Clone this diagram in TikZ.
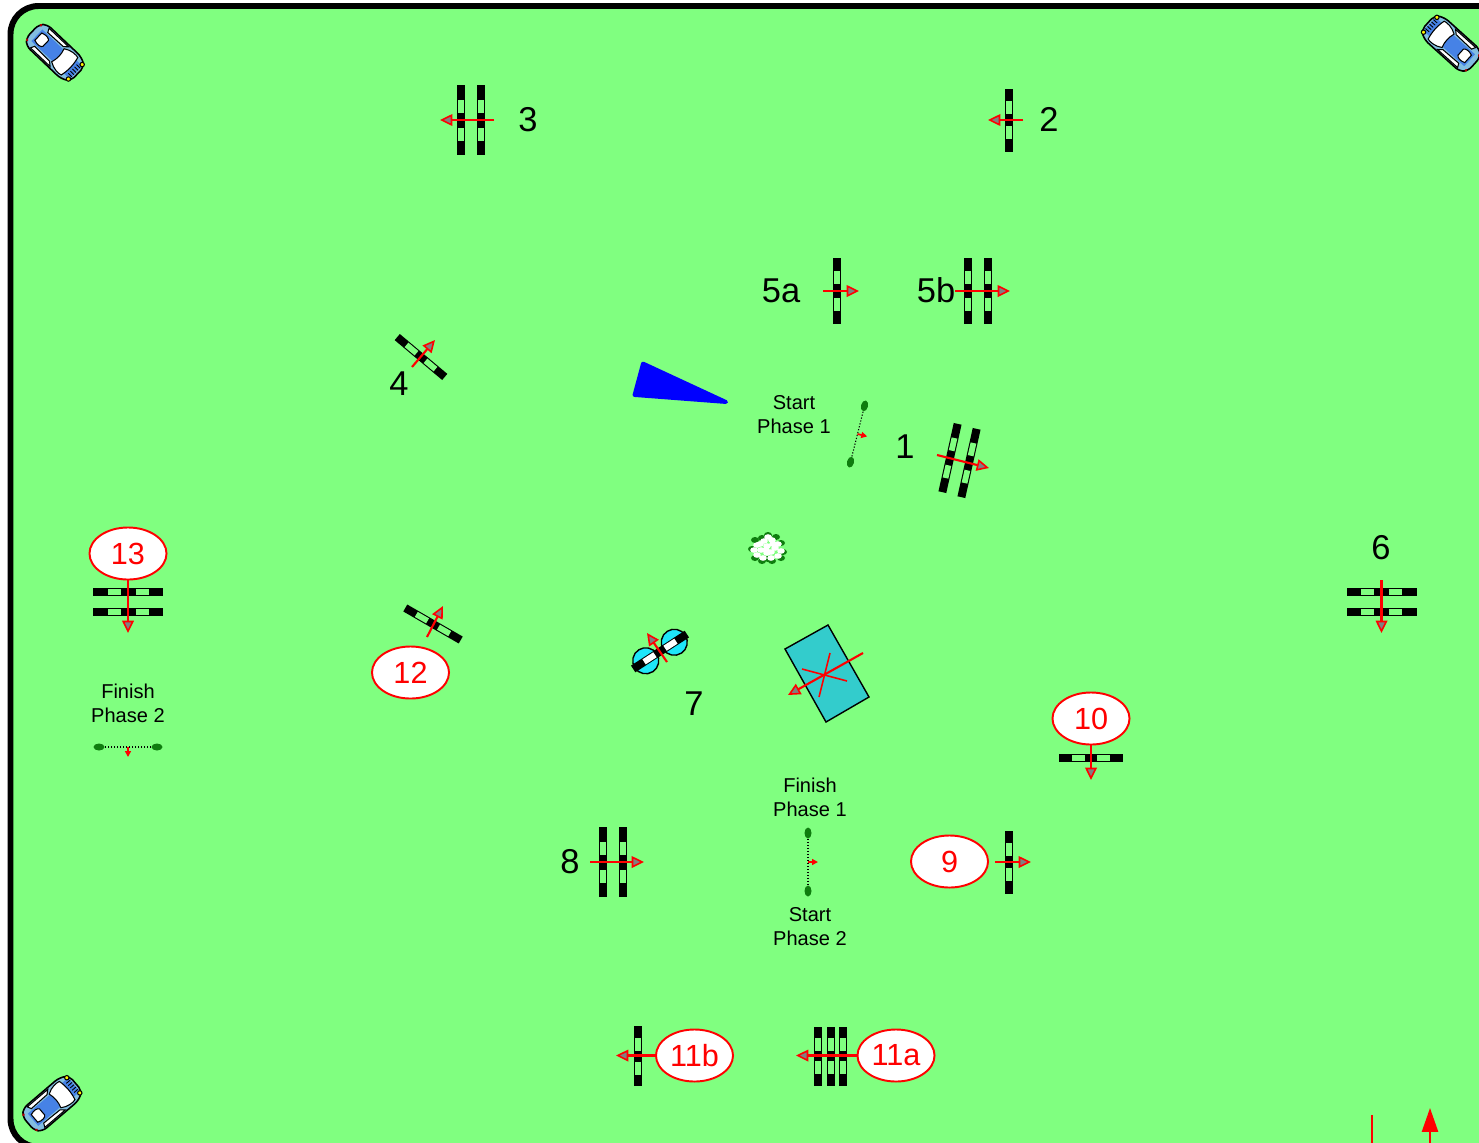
\documentclass[tikz,border=0pt]{standalone}
\usepackage{fontspec}
\setmainfont{Liberation Sans}
\usepackage{xcolor}
\usetikzlibrary{arrows.meta, shapes.geometric}
\definecolor{turf}{RGB}{128,255,128}
\definecolor{table}{RGB}{51,204,204}
\definecolor{tyre}{RGB}{30,230,250}
\definecolor{flag}{RGB}{15,125,15}
\definecolor{carbody}{RGB}{130,190,225}
\definecolor{carroof}{RGB}{70,130,230}

\begin{document}
\begin{tikzpicture}[
      x=0.01cm, y=-0.01cm,
      num/.style={font=\fontsize{9.8}{11}\selectfont, inner sep=0pt, text height=7pt, text depth=0pt},
      note/.style={font=\fontsize{5.7}{6.8}\selectfont, align=center, inner sep=0pt},
      circ/.style={draw=red, fill=white, line width=0.55pt, ellipse, minimum width=0.77cm, minimum height=0.52cm, inner sep=0pt, text=red, font=\fontsize{8.7}{10}\selectfont},
      dir/.style={draw=red, line width=0.6pt, -{Triangle[open, fill=gray, line width=0.45pt, length=3.5pt, width=3.3pt]}},
      cut/.style={draw=red, line width=0.45pt},
      pics/bar/.style={code={
        \fill[black] (-4,-#1/2) rectangle (4,#1/2);
        \fill[turf] (-2.9,-0.2*#1-6.5) rectangle (2.9,-0.2*#1+6.5);
        \fill[turf] (-2.9,0.2*#1-6.5) rectangle (2.9,0.2*#1+6.5);
      }},
      pics/bar/.default=70,
      pics/tyres/.style={code={
        \filldraw[fill=tyre, draw=black, line width=0.4pt] (0,17) circle (13);
        \filldraw[fill=tyre, draw=black, line width=0.4pt] (0,-17) circle (13);
        \fill[black] (-4,-32) rectangle (4,32);
        \fill[white] (-3,-19) rectangle (3,-6);
        \fill[white] (-3,6) rectangle (3,19);
      }},
      pics/gate/.style={code={
        \draw[line width=0.3pt, dash pattern=on 0.35pt off 0.5pt] (0,-26) -- (0,26);
        \fill[flag] (0,-29) ellipse (3.5 and 5.5);
        \fill[flag] (0,29) ellipse (3.5 and 5.5);
        \draw[draw=red, line width=0.5pt, -{Triangle[length=1.7pt, width=1.7pt]}] (0,0) -- (10,0);
      }},
      pics/car/.style={code={
        \filldraw[fill=carbody, draw=black, line width=0.45pt, rounded corners=0.05cm]
          (-31,-9) -- (-25,-15) -- (22,-15) -- (31,-10) -- (31,10) -- (22,15) -- (-25,15) -- (-31,9) -- cycle;
        \fill[carroof] (-25,-8) rectangle (8,8);
        \fill[carroof] (18,-9) rectangle (29,9);
        \filldraw[fill=white, draw=black, line width=0.3pt] (4,-9) .. controls (10,-13) and (17,-13) .. (20,-12) .. controls (22,-4) and (22,4) .. (20,12) .. controls (17,13) and (10,13) .. (4,9) .. controls (6,3) and (6,-3) .. (4,-9) -- cycle;
        \filldraw[fill=white, draw=black, line width=0.3pt] (-23,-5) .. controls (-18,-7) and (-14,-6) .. (-13,-4) -- (-13,4) .. controls (-14,6) and (-18,7) .. (-23,5) -- cycle;
        \filldraw[fill=white, draw=black, line width=0.3pt] (-21,-13.5) -- (6,-13.5) -- (2,-10) -- (-19,-9.5) -- cycle;
        \filldraw[fill=white, draw=black, line width=0.3pt] (-21,13.5) -- (6,13.5) -- (2,10) -- (-19,9.5) -- cycle;
        \foreach \gy in {-6,-3,0,3,6} {
          \draw[black, line width=0.25pt] (24,\gy) -- (29,\gy);
        }
        \filldraw[fill=yellow, draw=black, line width=0.3pt] (28,-10) circle (2.2);
        \filldraw[fill=yellow, draw=black, line width=0.3pt] (28,10) circle (2.2);
        \fill[red!70!black] (-29,-10) circle (1.5);
        \fill[red!70!black] (-29,10) circle (1.5);
      }}
    ]
    \useasboundingbox (0,0) rectangle (1479,1142);
    \clip (0,0) rectangle (1479,1142);
    \filldraw[fill=turf, draw=black, line width=1.7pt, rounded corners=0.28cm] (10.5,6) rectangle (1700,1147);

    \pic[rotate=-43.5] at (55,52.5) {car};
    \pic[rotate=138] at (1451,43.5) {car};
    \pic[rotate=40.5] at (52,1103.5) {car};

    \pic at (461,120) {bar=70};
    \pic at (481,120) {bar=70};
    \draw[dir] (494,120) -- (440,120);
    \node[num] (l3) at (528,119) {3};

    \pic at (1009,120) {bar=63};
    \draw[dir] (1023,120) -- (988,120);
    \node[num] (l2) at (1049,119) {2};

    \pic at (837,291) {bar=66};
    \draw[dir] (823,291) -- (859,291);
    \node[num] (l5a) at (781,290) {5a};

    \pic at (968,291) {bar=66};
    \pic at (988,291) {bar=66};
    \draw[dir] (955,291) -- (1010,291);
    \node[num] (l5b) at (936,290) {5b};

    \pic[rotate=50] at (421,357) {bar=62};
    \draw[dir] (412,367) -- (435,340);
    \node[num] (l4) at (399,383) {4};

    \fill[blue, draw=blue, line width=1.1pt, line join=round] (643,363.5) -- (726,402) -- (634.5,395) -- cycle;

    \node[note] (sp1) at (794,415) {Start\\Phase 1};
    \pic[rotate=-14] at (857.5,434) {gate};
    \node[num] (l1) at (905,446) {1};
    \pic[rotate=-12.6] at (950,458) {bar=70};
    \pic[rotate=-12.6] at (969,463) {bar=70};
    \draw[dir] (937,455) -- (989,468);

    \foreach \fx/\fy in {755/540,752/549,755/558,762/538,768/535,776/537,781/543,783/552,781/558,772/561,762/561,768/559} {
      \fill[flag] (\fx,\fy) ellipse (4 and 3);
    }
    \foreach \fx/\fy in {757/545,754/550,757/555,763/558,771/558,778/556,781/551,778/544,772/540,764/541,767/546,761/550,771/552,775/548,767/553,760/544,768/537,766/550,773/544} {
      \fill[white] (\fx,\fy) ellipse (3.8 and 2.8);
    }

    \pic[rotate=90] at (128,592) {bar=70};
    \pic[rotate=90] at (128,612) {bar=70};
    \node[circ] (c13) at (128,553.5) {13};
    \coordinate (d13) at (128,633);
    \draw[dir] (c13) -- (d13);

    \node[note] (fp2) at (128,703) {Finish\\Phase 2};
    \pic[rotate=-90] at (128,747) {gate};

    \pic[rotate=60] at (433,624) {bar=64};
    \draw[dir] (427,637) -- (443,606);
    \node[circ] (c12) at (410.5,672.5) {12};

    \pic[rotate=-57] at (660,651.5) {tyres};
    \draw[dir] (667,662) -- (647,633);
    \node[num] (l7) at (694,703) {7};

    \filldraw[fill=table, draw=black, line width=0.4pt] (785,649) -- (828,625) -- (869,697) -- (826,722) -- cycle;
    \draw[cut] (802,669) -- (847,681);
    \draw[cut] (830,653) -- (819,697);
    \draw[dir] (863,653) -- (788,695);

    \node[num] (l6) at (1381,547) {6};
    \pic[rotate=90] at (1381.5,592) {bar=70};
    \pic[rotate=90] at (1381.5,612) {bar=70};
    \draw[dir] (1381.5,580) -- (1381.5,633);

    \pic[rotate=90] at (1091,758) {bar=64};
    \node[circ] (c10) at (1091,718.5) {10};
    \coordinate (d10) at (1091,780);
    \draw[dir] (c10) -- (d10);

    \node[circ] (c9) at (949.5,861.5) {9};
    \pic at (1009,862) {bar=63};
    \draw[dir] (995,862) -- (1031,862);

    \node[num] (l8) at (570,861) {8};
    \pic at (603,862) {bar=70};
    \pic at (623,862) {bar=70};
    \draw[dir] (590,862) -- (644,862);

    \node[note] (fp1) at (810,797) {Finish\\Phase 1};
    \pic at (808,862) {gate};
    \node[note] (sp2) at (810,927) {Start\\Phase 2};

    \pic at (638,1056) {bar=60};
    \node[circ] (c11b) at (694.5,1055.5) {11b};
    \coordinate (d11b) at (616,1055.5);
    \draw[dir] (c11b) -- (d11b);

    \pic at (818,1056) {bar=59};
    \pic at (831,1056) {bar=59};
    \pic at (843,1056) {bar=59};
    \node[circ] (c11a) at (896,1055.5) {11a};
    \coordinate (d11a) at (796,1055.5);
    \draw[dir] (c11a) -- (d11a);

    \draw[draw=red, line width=0.55pt] (1372,1115) -- (1372,1150);
    \draw[draw=red, line width=0.55pt, -{Triangle[length=6.8pt, width=4.6pt]}] (1430,1150) -- (1430,1108);
  \end{tikzpicture}
\end{document}
